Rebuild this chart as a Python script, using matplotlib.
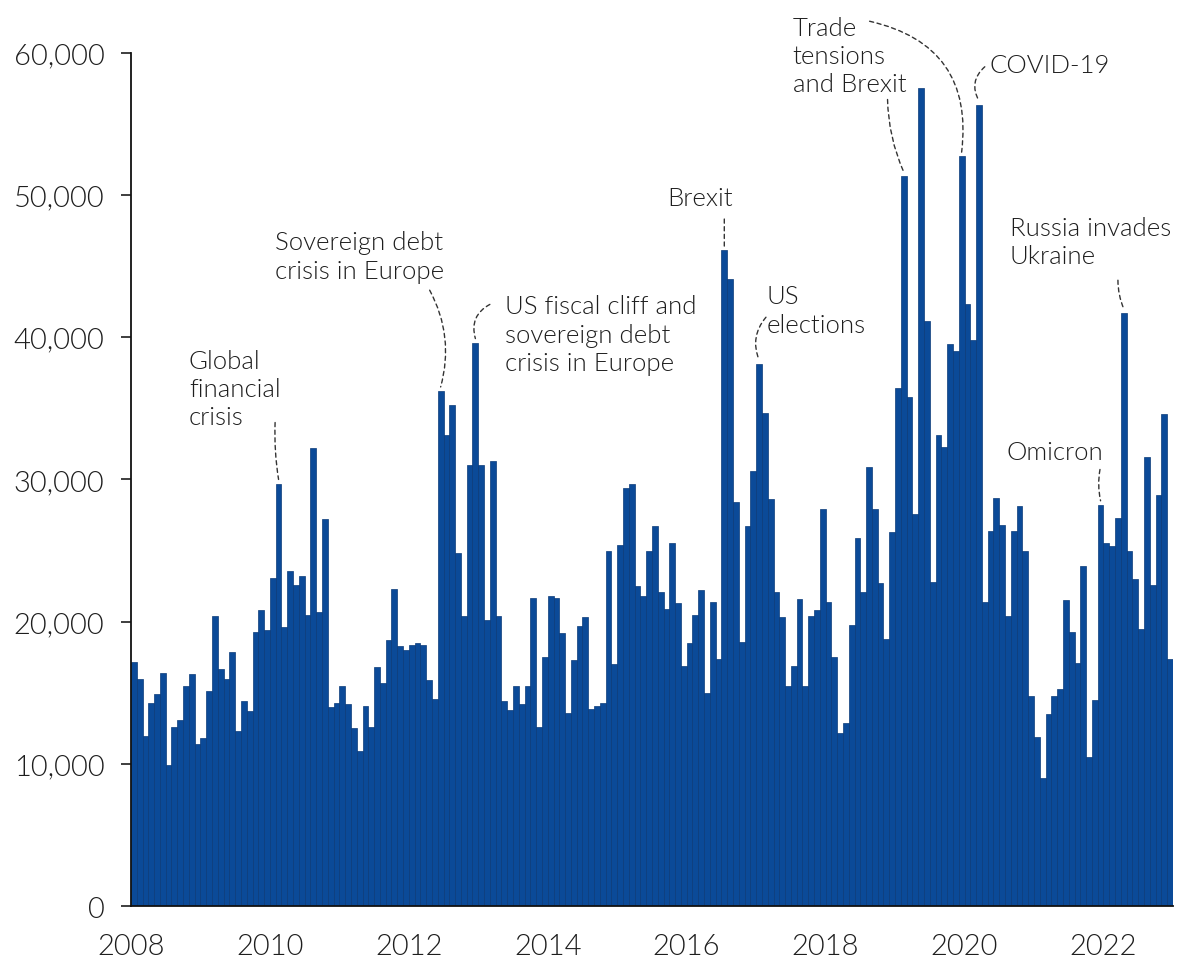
import matplotlib
matplotlib.use('Agg')
import matplotlib.pyplot as plt
import numpy as np

plt.rcParams['font.family'] = ['Lato', 'DejaVu Sans']
plt.rcParams['font.weight'] = 300

# monthly totals (thousands), January to December
y2008 = [17.2, 16.0, 12.0, 14.3, 14.9, 16.4, 9.9, 12.6, 13.1, 15.5, 16.3, 11.4]
y2009 = [11.8, 15.1, 20.4, 16.7, 16.0, 17.9, 12.3, 14.4, 13.7, 19.3, 20.8, 19.4]
y2010 = [23.1, 29.7, 19.6, 23.6, 22.6, 23.2, 20.5, 32.2, 20.7, 27.2, 14.0, 14.3]
y2011 = [15.5, 14.2, 12.5, 10.9, 14.1, 12.6, 16.8, 15.7, 18.7, 22.3, 18.3, 18.0]
y2012 = [18.4, 18.5, 18.4, 15.9, 14.6, 36.2, 33.1, 35.2, 24.8, 20.4, 31.0, 39.6]
y2013 = [31.0, 20.1, 31.3, 20.4, 14.4, 13.8, 15.5, 14.2, 15.5, 21.7, 12.6, 17.5]
y2014 = [21.8, 21.7, 19.2, 13.6, 17.3, 19.7, 20.3, 13.9, 14.1, 14.3, 25.0, 17.0]
y2015 = [25.4, 29.4, 29.7, 22.5, 21.8, 25.0, 26.7, 22.1, 20.9, 25.5, 21.3, 16.9]
y2016 = [18.5, 20.5, 22.2, 15.0, 21.4, 17.4, 46.1, 44.1, 28.4, 18.6, 26.7, 30.6]
y2017 = [38.1, 34.7, 28.6, 22.1, 20.3, 15.5, 16.9, 21.6, 15.5, 20.4, 20.8, 27.9]
y2018 = [21.4, 17.5, 12.2, 12.9, 19.8, 25.9, 22.1, 30.9, 27.9, 22.7, 18.8, 26.3]
y2019 = [36.4, 51.3, 35.8, 27.6, 57.5, 41.1, 22.8, 33.1, 32.3, 39.5, 39.0, 52.7]
y2020 = [42.3, 39.8, 56.3, 21.4, 26.4, 28.7, 26.8, 20.4, 26.4, 28.1, 25.0, 14.8]
y2021 = [11.9, 9.0, 13.5, 14.8, 15.3, 21.5, 19.3, 17.1, 23.9, 10.5, 14.5, 28.2]
y2022 = [25.5, 25.3, 27.3, 41.7, 25.0, 23.0, 19.5, 31.6, 22.6, 28.9, 34.6, 17.4]

years = list(range(2008, 2023))
tick_years = years[::2]

values = np.array(y2008 + y2009 + y2010 + y2011 + y2012 + y2013 + y2014 + y2015
                  + y2016 + y2017 + y2018 + y2019 + y2020 + y2021 + y2022) * 1000
months = np.arange(len(values))

# label, index of the bar it points at, text anchor (month, value),
# leader start (month, value), leader curvature
notes = [
    ("Global\nfinancial\ncrisis", 25, (9.5, 39200), (24.4, 34000), 0.05),
    ("Sovereign debt\ncrisis in Europe", 53, (24.4, 47500), (51.1, 43300), -0.2),
    ("US fiscal cliff and\nsovereign debt\ncrisis in Europe", 59, (64.1, 43000), (61.5, 42300), 0.4),
    ("Brexit", 102, (92.2, 50600), (102.0, 48300), 0.0),
    ("US\nelections", 108, (109.3, 43700), (109.2, 41400), 0.3),
    ("Trade\ntensions\nand Brexit", 133, (113.8, 62600), (130.2, 56700), 0.1),
    ("", 143, None, (127.1, 62200), -0.45),
    ("COVID-19", 146, (147.9, 60000), (147.0, 59000), 0.4),
    ("Russia invades\nUkraine", 171, (151.3, 48500), (170.0, 44000), 0.1),
    ("Omicron", 167, (150.8, 32800), (166.9, 30700), 0.1),
]

fig = plt.figure(figsize=(11.96, 9.70), dpi=100)
ax = fig.add_axes([0.1095, 0.0646, 0.8712, 0.8802])

ax.bar(months, values, width=1.0, color='#0b4a98', edgecolor='#0a3a78', linewidth=0.5)

ax.set_xlim(-0.5, len(values) - 0.5)
ax.set_ylim(0, 60000)

ax.set_yticks(np.arange(0, 60001, 10000))
ax.set_yticklabels([f"{v:,}" for v in range(0, 60001, 10000)])
ax.set_xticks([-0.5 + 12 * (y - years[0]) for y in tick_years])
ax.set_xticklabels([str(y) for y in tick_years])

ax.tick_params(axis='y', length=7, width=1.2, pad=12, labelsize=21, colors='#1e1e1e')
ax.tick_params(axis='x', length=0, pad=19, labelsize=21, colors='#1e1e1e')

for side in ['top', 'right']:
    ax.spines[side].set_visible(False)
for side in ['left', 'bottom']:
    ax.spines[side].set_linewidth(1.3)
    ax.spines[side].set_color('#111111')

for label, idx, text_xy, start_xy, rad in notes:
    if text_xy is not None:
        ax.text(text_xy[0], text_xy[1], label, ha='left', va='top', fontsize=18.5,
                color='#1e1e1e', linespacing=1.22, clip_on=False)
    ax.annotate('', xy=(idx, values[idx] + 300), xytext=start_xy,
                annotation_clip=False,
                arrowprops=dict(arrowstyle='-', linestyle=(0, (3, 2.5)), linewidth=1.0,
                                color='#333333', shrinkA=0, shrinkB=0,
                                connectionstyle=f"arc3,rad={rad}"))

fig.savefig('out.png', dpi=100)
